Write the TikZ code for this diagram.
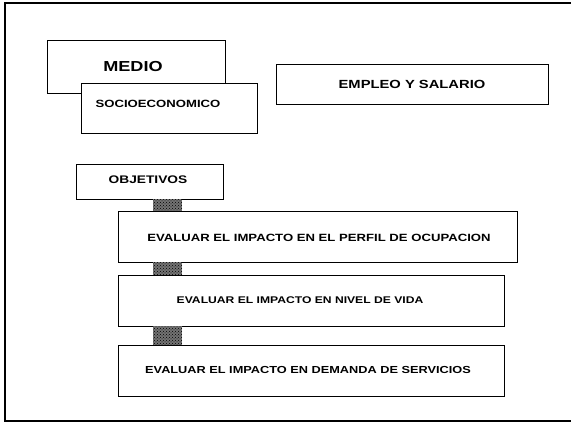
\documentclass[tikz,border=0pt]{standalone}
\usepackage{fontspec}
\newfontfamily\wf[FakeStretch=1.25]{Liberation Sans}
\usetikzlibrary{patterns,fit}
\begin{document}
\begin{tikzpicture}[x=1pt,y=-1pt,
  box/.style={draw=black, line width=0.9pt, fill=white, inner sep=0pt, rectangle},
  lbl/.style={inner sep=0pt, font=\wf\bfseries\fontsize{#1}{#1}\selectfont},
  hatch/.style={preaction={fill=black!55}, pattern=crosshatch dots, pattern color=black}]
\useasboundingbox (0,0) rectangle (571,423);
% outer frame
\draw[line width=2pt] (571,3) -- (5,3) -- (5,421) -- (571,421);
% top boxes
\node[box, fit={(47,40) (225,93)}] (medio) {};
\node[box, fit={(81,83) (257,133)}] (socio) {};
\node[box, fit={(276,64) (548,104)}] (empleo) {};
\node[lbl=14.5] (tmedio) at (133,67) {MEDIO};
\node[lbl=10.5] (tsocio) at (158,104) {SOCIOECONOMICO};
\node[lbl=11.8] (templeo) at (412,84) {EMPLEO Y SALARIO};
% objectives
\node[box, fit={(76,164) (223,199)}] (obj) {};
\node[lbl=11] (tobj) at (148,180) {OBJETIVOS};
\node[box, fit={(118,211) (517,262)}] (b1) {};
\node[box, fit={(118,275) (504,326)}] (b2) {};
\node[box, fit={(118,345) (504,396)}] (b3) {};
\node[lbl=10.5] (t1) at (319,238) {EVALUAR EL IMPACTO EN EL PERFIL DE OCUPACION};
\node[lbl=9.7] (t2) at (300,300) {EVALUAR EL IMPACTO EN NIVEL DE VIDA};
\node[lbl=10.2] (t3) at (308,370) {EVALUAR EL IMPACTO EN DEMANDA DE SERVICIOS};
% hatched links
\path[hatch] (153,0 |- obj.south) rectangle (182,0 |- b1.north);
\path[hatch] (153,0 |- b1.south) rectangle (182,0 |- b2.north);
\path[hatch] (153,0 |- b2.south) rectangle (182,0 |- b3.north);
\end{tikzpicture}
\end{document}
